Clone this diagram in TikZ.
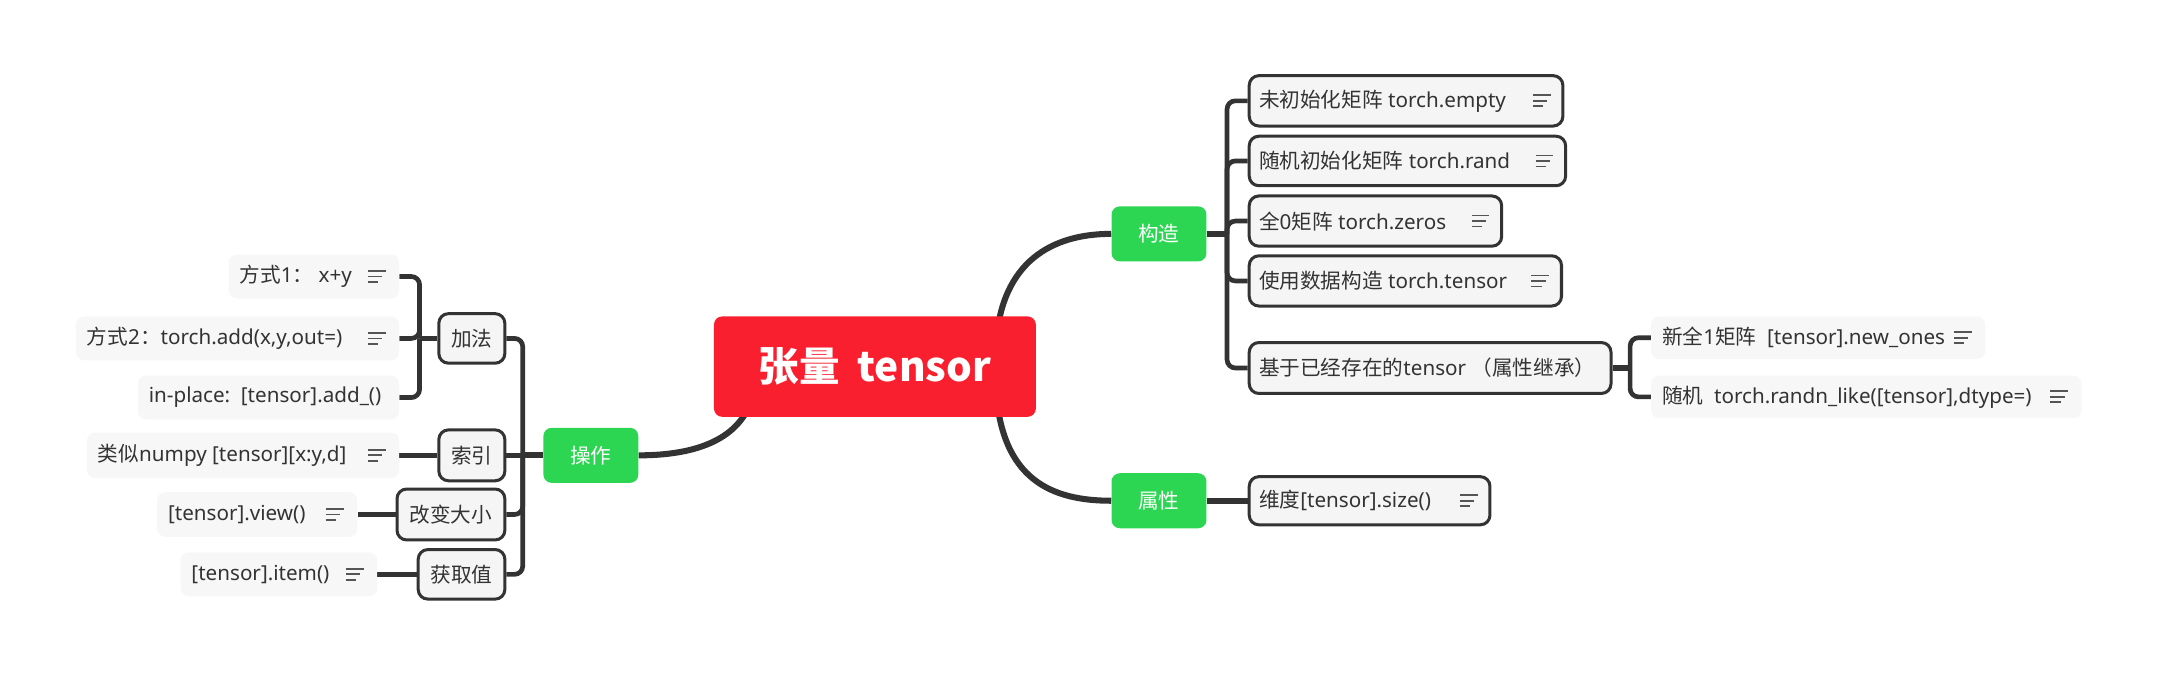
\documentclass[tikz,border=0pt]{standalone}
\usepackage{fontspec}
\setmainfont{Noto Sans}
\newfontfamily\cjk{Noto Sans CJK SC}
\definecolor{lc}{RGB}{51,51,51}
\definecolor{tc}{RGB}{51,51,51}
\definecolor{ic}{RGB}{85,85,85}
\definecolor{boxfill}{RGB}{245,245,245}
\definecolor{leaffill}{RGB}{247,247,247}
\definecolor{mmgreen}{RGB}{44,214,82}
\definecolor{rootred}{RGB}{249,31,46}
\pgfdeclarelayer{bg}
\pgfsetlayers{bg,main}
\tikzset{
  txt/.style={font=\fontsize{15}{18}\selectfont, text=tc, inner sep=0pt},
  bordbox/.style={draw=lc, line width=2.2pt, fill=boxfill, rounded corners=7pt, inner sep=0pt},
  leafbox/.style={fill=leaffill, rounded corners=6pt, inner sep=0pt},
  midbox/.style={bordbox, font=\cjk\fontsize{15}{18}\selectfont, text=tc},
  greenbox/.style={fill=mmgreen, rounded corners=6pt, text=white, inner sep=0pt,
    font=\cjk\fontsize{15}{18}\selectfont, minimum width=69pt, minimum height=40pt},
  rootbox/.style={fill=rootred, rounded corners=6pt, text=white, inner sep=0pt,
    font=\cjk\bfseries\fontsize{29.5}{33}\selectfont, minimum width=234pt, minimum height=73pt},
  rootline/.style={draw=lc, line width=4.4pt},
  hline/.style={draw=lc, line width=4.2pt},
  bline/.style={draw=lc, line width=3.4pt, rounded corners=6pt},
  iconline/.style={draw=ic, line width=1.3pt}
}
\newcommand\mmicon[1]{%
  \draw[iconline] ([xshift=-23pt,yshift=4pt]#1.east) -- ++(13,0);
  \draw[iconline] ([xshift=-23pt]#1.east) -- ++(10.5,0);
  \draw[iconline] ([xshift=-23pt,yshift=-4pt]#1.east) -- ++(7.5,0);
}
% #1 style, #2 name, #3 x1, #4 x2, #5 cy, #6 h, #7 text, #8 icon flag
\newcommand\mmbox[8]{%
  \pgfmathsetmacro\mmw{#4-#3}%
  \node[#1, minimum width=\mmw pt, minimum height=#6 pt, anchor=west] (#2) at (#3,#5) {};
  \node[txt, anchor=west] (#2-t) at ([xshift=8pt]#2.west) {#7};
  \ifnum#8=1\relax\mmicon{#2}\fi
}
\begin{document}
\begin{tikzpicture}[x=1pt,y=-1pt]
\useasboundingbox (0,0) rectangle (1568,490.7);

% root and main branches
\node[rootbox] (root) at (636,266.5) {张量\hspace{13pt}tensor};
\node[greenbox] (gz) at (842.5,170) {构造};
\node[greenbox] (sx) at (842.5,364) {属性};
\node[greenbox] (cz) at (429.5,331) {操作};

% children of 构造
\mmbox{bordbox}{c1}{907}{1135}{73.3}{36.6}{{\cjk 未初始化矩阵} torch.empty}{1}
\mmbox{bordbox}{c2}{907}{1137}{117}{36}{{\cjk 随机初始化矩阵} torch.rand}{1}
\mmbox{bordbox}{c3}{907}{1090.5}{160.7}{36.5}{{\cjk 全}0{\cjk 矩阵} torch.zeros}{1}
\mmbox{bordbox}{c4}{907}{1134}{204.2}{36.5}{{\cjk 使用数据构造} torch.tensor}{1}
\mmbox{bordbox}{c5}{907}{1170}{267.5}{37}{{\cjk 基于已经存在的}tensor {\cjk （属性继承）}}{0}
\mmbox{leafbox}{d1}{1200}{1443}{245.5}{31}{{\cjk 新全}1{\cjk 矩阵}\ \ [tensor].new\_ones}{1}
\mmbox{leafbox}{d2}{1200}{1513}{288.5}{31}{{\cjk 随机}\ \ torch.randn\_like([tensor],dtype=)}{1}

% child of 属性
\mmbox{bordbox}{wd}{907}{1082}{364}{35}{{\cjk 维度}[tensor].size()}{1}

% children of 操作
\node[midbox, minimum width=48pt, minimum height=36pt] (jf) at (343,246) {加法};
\node[midbox, minimum width=48pt, minimum height=37pt] (sy) at (343,331) {索引};
\node[midbox, minimum width=78.4pt, minimum height=37pt] (gb) at (327.8,374) {改变大小};
\node[midbox, minimum width=63pt, minimum height=36pt] (hq) at (335.5,417.5) {获取值};

% leaves on the left
\mmbox{leafbox}{l1}{166}{290}{201}{32}{{\cjk 方式}1{\cjk ：} x+y}{1}
\mmbox{leafbox}{l2}{55}{290}{246}{32}{{\cjk 方式}2{\cjk ：}torch.add(x,y,out=)}{1}
\mmbox{leafbox}{l3}{100}{290}{289}{32}{in-place:\ \ [tensor].add\_()}{0}
\mmbox{leafbox}{l4}{63}{290}{331}{33}{{\cjk 类似}numpy [tensor][x:y,d]}{1}
\mmbox{leafbox}{l5}{114}{259.5}{374}{32.5}{[tensor].view()}{1}
\mmbox{leafbox}{l6}{131}{274}{417.5}{32}{[tensor].item()}{1}

% junctions
\coordinate (gzj) at (892,170);
\coordinate (czj) at (380,331);
\coordinate (jfj) at (305,246);
\coordinate (c5j) at (1185,267.5);
\coordinate (r1) at ([xshift=88pt,yshift=16.5pt]root.center);
\coordinate (r2) at ([xshift=88pt,yshift=-16.5pt]root.center);
\coordinate (r3) at ([xshift=-88pt,yshift=-18.5pt]root.center);

\begin{pgfonlayer}{bg}
  \draw[rootline] (r1) .. controls +(4,-60) and +(-43,0) .. (gz.west);
  \draw[rootline] (r2) .. controls +(4,66) and +(-43,0) .. (sx.west);
  \draw[rootline] (r3) .. controls +(-8,35) and +(41,0) .. (cz.east);
  % 构造
  \draw[hline] (gz.east) -- (gzj);
  \draw[bline] (gzj) |- (c1.west);
  \draw[bline] (gzj) |- (c2.west);
  \draw[bline] (gzj) |- (c3.west);
  \draw[bline] (gzj) |- (c4.west);
  \draw[bline] (gzj) |- (c5.west);
  \draw[hline] (c5.east) -- (c5j);
  \draw[bline] (c5j) |- (d1.west);
  \draw[bline] (c5j) |- (d2.west);
  % 属性
  \draw[hline] (sx.east) -- (wd.west);
  % 操作
  \draw[hline] (cz.west) -- (czj);
  \draw[bline] (czj) |- (jf.east);
  \draw[bline] (czj) -- (sy.east);
  \draw[bline] (czj) |- (gb.east);
  \draw[bline] (czj) |- (hq.east);
  \draw[hline] (jf.west) -- (jfj);
  \draw[bline] (jfj) |- (l1.east);
  \draw[bline] (jfj) |- (l2.east);
  \draw[bline] (jfj) |- (l3.east);
  \draw[bline] (sy.west) -- (l4.east);
  \draw[bline] (gb.west) -- (l5.east);
  \draw[bline] (hq.west) -- (l6.east);
\end{pgfonlayer}
\end{tikzpicture}
\end{document}
